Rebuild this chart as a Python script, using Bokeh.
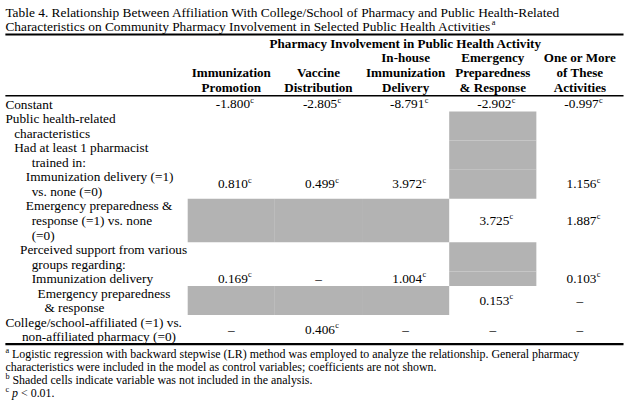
from bokeh.plotting import figure
from bokeh.models import Range1d
from bokeh.embed import file_html
from bokeh.resources import INLINE
from bokeh.core.properties import value

# ---------------- data ----------------
title_lines = [
    "Table 4. Relationship Between Affiliation With College/School of Pharmacy and Public Health-Related",
    "Characteristics on Community Pharmacy Involvement in Selected Public Health Activities",
]
title_note = "a"
spanner = "Pharmacy Involvement in Public Health Activity"
col_headers = [
    ["Immunization", "Promotion"],
    ["Vaccine", "Distribution"],
    ["In-house", "Immunization", "Delivery"],
    ["Emergency", "Preparedness", "& Response"],
    ["One or More", "of These", "Activities"],
]
row_labels = [
    ["Constant"],
    ["Public health-related", "characteristics"],
    ["Had at least 1 pharmacist", "trained in:"],
    ["Immunization delivery (=1)", "vs. none (=0)"],
    ["Emergency preparedness &", "response (=1) vs. none", "(=0)"],
    ["Perceived support from various", "groups regarding:"],
    ["Immunization delivery"],
    ["Emergency preparedness", "& response"],
    ["College/school-affiliated (=1) vs.", "non-affiliated pharmacy (=0)"],
]
immunization_promotion = ["-1.800", None, None, "0.810", None, None, "0.169", None, "–"]
vaccine_distribution = ["-2.805", None, None, "0.499", None, None, "–", None, "0.406"]
inhouse_delivery = ["-8.791", None, None, "3.972", None, None, "1.004", None, "–"]
emergency_preparedness = ["-2.902", None, None, None, "3.725", None, None, "0.153", "–"]
one_or_more = ["-0.997", None, None, "1.156", "1.887", None, "0.103", "–", "–"]
series = [immunization_promotion, vaccine_distribution, inhouse_delivery,
          emergency_preparedness, one_or_more]
# shaded cells (variable not included in the analysis)
shaded_promotion = [0, 0, 0, 0, 1, 0, 0, 1, 0]
shaded_distribution = [0, 0, 0, 0, 1, 0, 0, 1, 0]
shaded_delivery = [0, 0, 0, 0, 1, 0, 0, 1, 0]
shaded_emergency = [0, 1, 1, 1, 0, 1, 1, 0, 0]
shaded_one_or_more = [0, 0, 0, 0, 0, 0, 0, 0, 0]
shading = [shaded_promotion, shaded_distribution, shaded_delivery,
           shaded_emergency, shaded_one_or_more]
sig_note = "c"
footnotes = [
    ("a", "Logistic regression with backward stepwise (LR) method was employed to analyze the relationship. General pharmacy"),
    ("", "characteristics were included in the model as control variables; coefficients are not shown."),
    ("b", "Shaded cells indicate variable was not included in the analysis."),
]
footnote_c = ("c", "p", "< 0.01.")

# ---------------- layout / style ----------------
FW, FH = 624, 402
XR = (-2, 638)
YR = (417, -3)
SC = 0.97
DX = (XR[1] - XR[0]) / FW          # data units per page pixel (x)
FONT = value("Liberation Serif")
GREY = "#b3b3b3"


def fs(px):
    return value(f"{px * SC:.2f}px")


TNR = {' ': 250, 'a': 444, 'b': 500, 'c': 444, 'd': 500, 'e': 444, 'f': 333, 'g': 500,
       'h': 500, 'i': 278, 'j': 278, 'k': 500, 'l': 278, 'm': 778, 'n': 500, 'o': 500,
       'p': 500, 'q': 500, 'r': 333, 's': 389, 't': 278, 'u': 500, 'v': 500, 'w': 722,
       'x': 500, 'y': 500, 'z': 444, '.': 250, '-': 333, ',': 250, '(': 333, ')': 333,
       '=': 564, '/': 278, ':': 278, ';': 278, '&': 778, '<': 564, '–': 500,
       'A': 722, 'B': 667, 'C': 667, 'D': 722, 'E': 611, 'F': 556, 'G': 722, 'H': 722,
       'I': 333, 'J': 389, 'K': 722, 'L': 611, 'M': 889, 'N': 722, 'O': 722, 'P': 556,
       'Q': 722, 'R': 667, 'S': 556, 'T': 611, 'U': 722, 'V': 722, 'W': 944, 'X': 722,
       'Y': 722, 'Z': 611}


def twidth(s, size_px):
    """approximate rendered width (in data units) of s at font size size_px"""
    return sum(TNR.get(ch, 500) for ch in s) / 1000.0 * size_px * SC * DX


X0 = 3
X_END = 637
COL_LEFT = 190.0
COL_W = (X_END - COL_LEFT) / 5
TITLE_SIZE = 13.8
HEAD_SIZE = 13.5
BODY_SIZE = 13.7
SUP_SIZE = 8.5
FOOT_SIZE = 12.3
TITLE_Y = [9.5, 24.5]
TOP_RULE = 32.5
HEAD_BOTTOM = 87.5
HEAD_L = 15.3
HEAD_RULE = 96.5
BODY_TOP = 97.7
L = 15.2
FOOT_Y0 = 366
FOOT_L = 13.6

indents = [[3], [3, 12], [12, 30], [24, 30], [24, 30, 30], [18, 30], [30], [36, 43], [3, 20]]

p = figure(width=FW, height=FH, x_range=Range1d(*XR), y_range=Range1d(*YR),
           output_backend="svg", toolbar_location=None, min_border=0,
           x_axis_type=None, y_axis_type=None)
p.grid.visible = False
p.outline_line_color = None
p.background_fill_color = "white"
p.border_fill_color = "white"

# row geometry
row_tops = []
t = BODY_TOP
for lab in row_labels:
    row_tops.append(t)
    t += L * len(lab)
body_bottom = t

# shaded cells
ql, qr, qt, qb = [], [], [], []
for j, sh in enumerate(shading):
    for i, s in enumerate(sh):
        if s:
            ql.append(COL_LEFT + j * COL_W)
            qr.append(COL_LEFT + (j + 1) * COL_W)
            qt.append(row_tops[i])
            qb.append(row_tops[i] + L * len(row_labels[i]))
p.quad(left=ql, right=qr, top=qt, bottom=qb, fill_color=GREY, line_color=None)

# rules
p.segment(x0=[X0], y0=[TOP_RULE], x1=[X_END], y1=[TOP_RULE], line_color="black", line_width=2.2)
p.segment(x0=[X0], y0=[HEAD_RULE], x1=[X_END], y1=[HEAD_RULE], line_color="black", line_width=1.6)
p.segment(x0=[X0], y0=[body_bottom], x1=[X_END], y1=[body_bottom], line_color="black", line_width=2.2)

# title
p.text(x=[X0, X0], y=TITLE_Y, text=title_lines, text_font=FONT, text_font_size=fs(TITLE_SIZE),
       text_align="left", text_baseline="middle", text_color="black")
p.text(x=[X0 + twidth(title_lines[1], TITLE_SIZE) + 0.5], y=[TITLE_Y[1] - 4],
       text=[title_note], text_font=FONT, text_font_size=fs(SUP_SIZE),
       text_align="left", text_baseline="middle", text_color="black")

# header
col_centers = [COL_LEFT + (j + 0.5) * COL_W for j in range(5)]
hx, hy, ht = [], [], []
for j, lines in enumerate(col_headers):
    n = len(lines)
    for k, ln in enumerate(lines):
        hx.append(col_centers[j])
        hy.append(HEAD_BOTTOM - (n - 1 - k) * HEAD_L)
        ht.append(ln)
hx.append((COL_LEFT + X_END) / 2)
hy.append(HEAD_BOTTOM - 3 * HEAD_L)
ht.append(spanner)
p.text(x=hx, y=hy, text=ht, text_font=FONT, text_font_size=fs(HEAD_SIZE),
       text_font_style="bold", text_align="center", text_baseline="middle", text_color="black")

# row labels
lx, ly, lt = [], [], []
for i, lines in enumerate(row_labels):
    for k, ln in enumerate(lines):
        lx.append(indents[i][k])
        ly.append(row_tops[i] + (k + 0.5) * L)
        lt.append(ln)
p.text(x=lx, y=ly, text=lt, text_font=FONT, text_font_size=fs(BODY_SIZE),
       text_align="left", text_baseline="middle", text_color="black")

# values
vx, vy, vt, sx, sy, st = [], [], [], [], [], []
for j, ser in enumerate(series):
    for i, v in enumerate(ser):
        if v is None:
            continue
        yc = row_tops[i] + L * len(row_labels[i]) / 2
        if v == "–":
            vx.append(col_centers[j])
            vy.append(yc)
            vt.append(v)
            continue
        wb = twidth(v, BODY_SIZE)
        ws = twidth(sig_note, SUP_SIZE)
        left = col_centers[j] + 3.5 - (wb + ws) / 2
        vx.append(left + wb / 2)
        vy.append(yc)
        vt.append(v)
        sx.append(left + wb + 0.3)
        sy.append(yc - 4)
        st.append(sig_note)
p.text(x=vx, y=vy, text=vt, text_font=FONT, text_font_size=fs(BODY_SIZE),
       text_align="center", text_baseline="middle", text_color="black")
p.text(x=sx, y=sy, text=st, text_font=FONT, text_font_size=fs(SUP_SIZE),
       text_align="left", text_baseline="middle", text_color="black")

# footnotes
fx, fy, ft, mx, my, mt = [], [], [], [], [], []
for k, (mark, txt) in enumerate(footnotes):
    y = FOOT_Y0 + k * FOOT_L
    if mark:
        mx.append(X0)
        my.append(y - 3.5)
        mt.append(mark)
        fx.append(X0 + twidth(mark, SUP_SIZE) + twidth(" ", FOOT_SIZE))
    else:
        fx.append(X0)
    fy.append(y)
    ft.append(txt)
yc_ = FOOT_Y0 + 3 * FOOT_L
mx.append(X0)
my.append(yc_ - 3.5)
mt.append(footnote_c[0])
p.text(x=fx, y=fy, text=ft, text_font=FONT, text_font_size=fs(FOOT_SIZE),
       text_align="left", text_baseline="middle", text_color="black")
p.text(x=mx, y=my, text=mt, text_font=FONT, text_font_size=fs(SUP_SIZE),
       text_align="left", text_baseline="middle", text_color="black")
px_ = X0 + twidth(footnote_c[0], SUP_SIZE) + twidth(" ", FOOT_SIZE)
p.text(x=[px_], y=[yc_], text=[footnote_c[1]], text_font=FONT, text_font_size=fs(FOOT_SIZE),
       text_font_style="italic", text_align="left", text_baseline="middle", text_color="black")
p.text(x=[px_ + twidth(footnote_c[1] + " ", FOOT_SIZE)], y=[yc_], text=[footnote_c[2]],
       text_font=FONT, text_font_size=fs(FOOT_SIZE), text_align="left",
       text_baseline="middle", text_color="black")

open("out.html", "w").write(file_html(p, INLINE))
